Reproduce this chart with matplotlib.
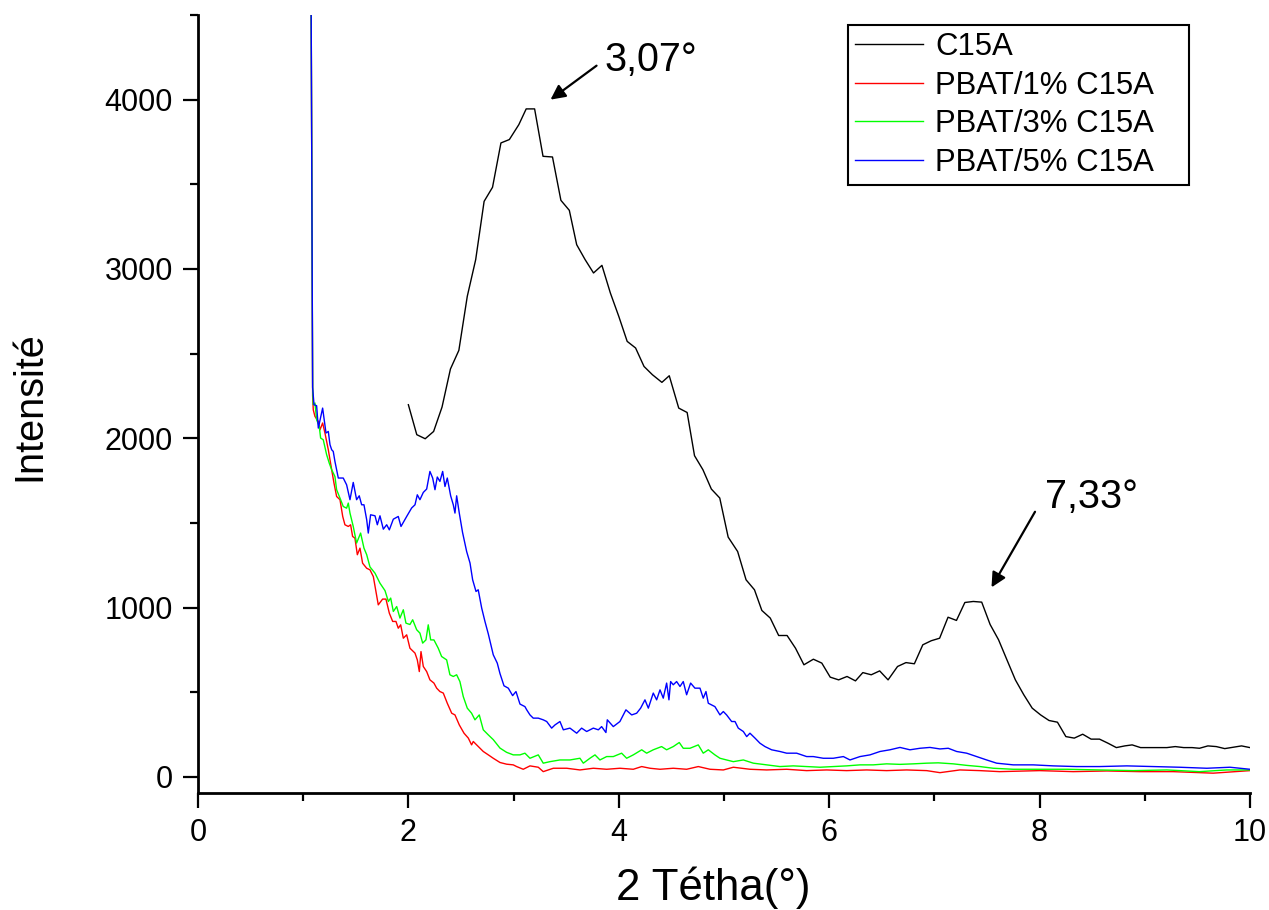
import matplotlib
matplotlib.use("Agg")
import matplotlib.pyplot as plt
from matplotlib.ticker import MultipleLocator

plt.rcParams['font.family'] = ['Liberation Sans', 'DejaVu Sans']

# --- C15A (black) ---
c15a_x = [2.00, 2.08, 2.16, 2.24, 2.32, 2.40, 2.48, 2.56, 2.64, 2.72,
          2.80, 2.88, 2.96, 3.05, 3.12, 3.20, 3.28, 3.37, 3.45, 3.53,
          3.60, 3.68, 3.76, 3.84, 3.92, 4.00, 4.08, 4.16, 4.24, 4.32,
          4.41, 4.48, 4.57, 4.65, 4.72, 4.80, 4.88, 4.96, 5.04, 5.13,
          5.21, 5.29, 5.36, 5.44, 5.52, 5.60, 5.68, 5.76, 5.85, 5.93,
          6.01, 6.09, 6.17, 6.25, 6.32, 6.40, 6.48, 6.56, 6.65, 6.73,
          6.81, 6.89, 6.97, 7.05, 7.13, 7.21, 7.29, 7.37, 7.45, 7.53,
          7.61, 7.69, 7.77, 7.85, 7.93, 8.01, 8.09, 8.17, 8.25, 8.33,
          8.41, 8.49, 8.57, 8.65, 8.73, 8.81, 8.88, 8.96, 9.05, 9.13,
          9.21, 9.29, 9.37, 9.45, 9.52, 9.60, 9.68, 9.76, 9.84, 9.92,
          10.0]
c15a_y = [2198, 2021, 1997, 2040, 2184, 2409, 2519, 2838, 3055, 3399,
          3482, 3744, 3764, 3852, 3945, 3945, 3665, 3661, 3405, 3346,
          3143, 3055, 2976, 3021, 2858, 2720, 2572, 2533, 2424, 2375,
          2330, 2369, 2178, 2152, 1897, 1814, 1700, 1647, 1416, 1331,
          1164, 1105, 983, 938, 835, 835, 760, 662, 695, 672,
          589, 573, 593, 567, 616, 603, 626, 573, 652, 675,
          668, 780, 804, 819, 943, 924, 1030, 1036, 1032, 900,
          810, 691, 573, 485, 406, 366, 333, 323, 238, 229,
          252, 223, 223, 199, 173, 183, 189, 173, 173, 173,
          173, 179, 173, 173, 169, 183, 179, 167, 175, 183,
          173]

# --- PBAT/1% C15A (red) ---
pbat1_x = [1.072, 1.090, 1.096, 1.112, 1.144, 1.160, 1.185, 1.207, 1.239, 1.271,
           1.293, 1.318, 1.350, 1.376, 1.397, 1.429, 1.451, 1.470, 1.492, 1.515,
           1.540, 1.565, 1.604, 1.635, 1.667, 1.714, 1.755, 1.787, 1.819, 1.851,
           1.882, 1.904, 1.927, 1.952, 1.984, 2.015, 2.063, 2.085, 2.104, 2.120,
           2.142, 2.174, 2.205, 2.243, 2.269, 2.300, 2.332, 2.370, 2.412, 2.443,
           2.484, 2.529, 2.570, 2.601, 2.617, 2.649, 2.712, 2.760, 2.807, 2.871,
           2.934, 2.997, 3.029, 3.092, 3.156, 3.235, 3.282, 3.378, 3.505, 3.631,
           3.758, 3.885, 4.011, 4.138, 4.218, 4.297, 4.392, 4.518, 4.645, 4.756,
           4.867, 4.994, 5.089, 5.247, 5.406, 5.596, 5.786, 5.976, 6.166, 6.356,
           6.546, 6.736, 6.927, 7.053, 7.243, 7.433, 7.62, 8.0, 8.32, 8.64,
           8.95, 9.27, 9.65, 10.0]
pbat1_y = [5200, 2250, 2168, 2129, 2099, 2050, 2090, 2031, 1932, 1814,
           1735, 1656, 1637, 1538, 1489, 1479, 1489, 1420, 1410, 1312,
           1351, 1262, 1232, 1223, 1183, 1016, 1050, 1050, 967, 918,
           918, 878, 898, 819, 839, 760, 731, 691, 622, 740,
           652, 622, 573, 554, 524, 504, 495, 435, 376, 366,
           307, 258, 229, 189, 209, 189, 150, 130, 110, 85,
           75, 71, 61, 45, 65, 57, 31, 51, 51, 41,
           51, 45, 51, 45, 61, 51, 45, 51, 45, 61,
           45, 41, 57, 45, 41, 45, 37, 41, 37, 41,
           37, 41, 37, 25, 41, 37, 31, 37, 31, 35,
           31, 31, 22, 37]

# --- PBAT/3% C15A (green) ---
pbat3_x = [1.072, 1.090, 1.096, 1.112, 1.128, 1.153, 1.166, 1.191, 1.223, 1.248,
           1.271, 1.302, 1.318, 1.356, 1.381, 1.413, 1.429, 1.445, 1.476, 1.508,
           1.546, 1.578, 1.604, 1.635, 1.683, 1.730, 1.778, 1.810, 1.832, 1.857,
           1.889, 1.920, 1.952, 1.977, 2.015, 2.041, 2.079, 2.110, 2.136, 2.167,
           2.189, 2.212, 2.243, 2.284, 2.316, 2.364, 2.395, 2.427, 2.459, 2.490,
           2.522, 2.560, 2.601, 2.633, 2.674, 2.712, 2.760, 2.807, 2.871, 2.934,
           2.997, 3.061, 3.108, 3.156, 3.235, 3.282, 3.346, 3.441, 3.536, 3.631,
           3.663, 3.726, 3.774, 3.821, 3.885, 3.948, 4.027, 4.075, 4.138, 4.218,
           4.265, 4.328, 4.407, 4.455, 4.518, 4.575, 4.613, 4.677, 4.756, 4.803,
           4.851, 4.914, 4.962, 5.025, 5.089, 5.184, 5.279, 5.406, 5.532, 5.659,
           5.786, 5.913, 6.039, 6.166, 6.293, 6.419, 6.546, 6.673, 6.80, 6.927,
           7.037, 7.18, 7.307, 7.433, 7.56, 7.75, 7.94, 8.26, 8.57, 8.89,
           9.21, 9.52, 9.78, 10.0]
pbat3_y = [5200, 2300, 2198, 2208, 2109, 2070, 2001, 1991, 1903, 1853,
           1814, 1774, 1696, 1637, 1597, 1587, 1617, 1558, 1479, 1381,
           1440, 1351, 1312, 1240, 1203, 1144, 1100, 1036, 1056, 977,
           1006, 938, 987, 908, 900, 928, 869, 849, 790, 809,
           898, 809, 809, 760, 711, 691, 603, 593, 603, 563,
           474, 406, 376, 337, 366, 278, 248, 220, 170, 145,
           130, 130, 140, 110, 130, 81, 90, 100, 100, 110,
           81, 110, 130, 100, 120, 120, 140, 110, 130, 160,
           140, 160, 179, 160, 179, 203, 169, 169, 189, 140,
           160, 130, 110, 100, 90, 100, 81, 71, 61, 65,
           61, 57, 61, 65, 71, 71, 77, 74, 77, 81,
           83, 77, 68, 61, 51, 45, 45, 45, 41, 37,
           41, 31, 41, 41]

# --- PBAT/5% C15A (blue) ---
pbat5_x = [1.072, 1.090, 1.103, 1.128, 1.144, 1.185, 1.217, 1.239, 1.255, 1.271,
           1.286, 1.302, 1.334, 1.381, 1.413, 1.445, 1.476, 1.508, 1.533, 1.556,
           1.578, 1.604, 1.619, 1.641, 1.683, 1.705, 1.730, 1.762, 1.794, 1.819,
           1.857, 1.904, 1.930, 1.984, 2.031, 2.063, 2.085, 2.110, 2.142, 2.174,
           2.205, 2.231, 2.253, 2.275, 2.300, 2.326, 2.348, 2.370, 2.402, 2.427,
           2.443, 2.459, 2.484, 2.515, 2.554, 2.586, 2.611, 2.643, 2.664, 2.697,
           2.728, 2.760, 2.807, 2.845, 2.871, 2.909, 2.950, 2.991, 3.023, 3.061,
           3.108, 3.125, 3.156, 3.187, 3.235, 3.282, 3.315, 3.362, 3.394, 3.441,
           3.473, 3.536, 3.600, 3.647, 3.695, 3.758, 3.806, 3.837, 3.878, 3.891,
           3.948, 4.011, 4.068, 4.123, 4.170, 4.208, 4.249, 4.281, 4.328, 4.360,
           4.392, 4.423, 4.455, 4.477, 4.493, 4.518, 4.550, 4.582, 4.613, 4.645,
           4.683, 4.724, 4.772, 4.803, 4.829, 4.851, 4.914, 4.962, 4.994, 5.025,
           5.073, 5.105, 5.136, 5.184, 5.216, 5.247, 5.295, 5.342, 5.390, 5.453,
           5.532, 5.596, 5.691, 5.786, 5.849, 5.944, 6.039, 6.135, 6.198, 6.293,
           6.388, 6.483, 6.578, 6.673, 6.768, 6.863, 6.958, 7.053, 7.132, 7.212,
           7.307, 7.402, 7.497, 7.592, 7.75, 7.94, 8.13, 8.35, 8.57, 8.83,
           9.08, 9.33, 9.59, 9.81, 10.0]
pbat5_y = [5200, 2300, 2198, 2192, 2060, 2178, 2031, 2040, 1962, 1932,
           1922, 1863, 1765, 1765, 1725, 1637, 1739, 1637, 1660, 1607,
           1607, 1518, 1440, 1548, 1542, 1489, 1542, 1463, 1489, 1459,
           1522, 1538, 1479, 1538, 1588, 1607, 1666, 1637, 1680, 1700,
           1804, 1765, 1696, 1771, 1745, 1804, 1715, 1765, 1660, 1607,
           1558, 1660, 1558, 1444, 1331, 1263, 1164, 1095, 1105, 997,
           918, 844, 721, 672, 610, 538, 524, 480, 504, 430,
           415, 396, 366, 347, 347, 337, 327, 288, 307, 327,
           278, 288, 258, 288, 268, 288, 278, 297, 262, 337,
           297, 327, 396, 366, 376, 406, 455, 406, 495, 455,
           514, 465, 554, 455, 563, 544, 563, 534, 563, 485,
           554, 524, 524, 465, 504, 435, 415, 366, 386, 366,
           327, 327, 288, 268, 238, 258, 229, 199, 179, 160,
           150, 140, 140, 120, 120, 110, 110, 120, 100, 120,
           130, 150, 160, 174, 160, 169, 174, 165, 169, 150,
           140, 120, 100, 81, 71, 71, 65, 61, 61, 65,
           61, 57, 51, 57, 45]

series = [
    (c15a_x, c15a_y, 'black', 'C15A'),
    (pbat1_x, pbat1_y, '#ff0000', 'PBAT/1% C15A'),
    (pbat3_x, pbat3_y, '#00ff00', 'PBAT/3% C15A'),
    (pbat5_x, pbat5_y, '#0000ff', 'PBAT/5% C15A'),
]

# annotated peaks: label, arrow head, arrow tail, text position
peaks = [("3,07°", (3.33, 3990), (3.81, 4210), (3.86, 4236)),
         ("7,33°", (7.53, 1105), (7.97, 1580), (8.05, 1654))]


fig = plt.figure(figsize=(12.69, 9.10), dpi=100)
ax = fig.add_axes([0.156, 0.1286, 0.829, 0.855])

for x, y, col, lab in series:
    ax.plot(x, y, color=col, lw=1.0, label=lab)

ax.set_xlim(0, 10)
ax.set_ylim(-95, 4500)

for s in ['top', 'right']:
    ax.spines[s].set_visible(False)
for s in ['left', 'bottom']:
    ax.spines[s].set_linewidth(2)

ax.xaxis.set_major_locator(MultipleLocator(2))
ax.xaxis.set_minor_locator(MultipleLocator(1))
ax.yaxis.set_major_locator(MultipleLocator(1000))
ax.yaxis.set_minor_locator(MultipleLocator(500))
ax.tick_params(which='major', direction='out', length=11, width=1.6,
               labelsize=22, pad=7)
ax.tick_params(which='minor', direction='out', length=6, width=1.6)

ax.set_xlabel("2 Tétha(°)", fontsize=31.5)
ax.set_ylabel("Intensité", fontsize=28.5)
ax.xaxis.set_label_coords(0.49, -0.122)
ax.yaxis.set_label_coords(-0.16, 0.497)
ax.xaxis.label.set_va('center')
ax.yaxis.label.set_va('center')

for txt, head, tail, pos in peaks:
    ax.annotate('', xy=head, xytext=tail,
                arrowprops=dict(arrowstyle='-|>', color='black', lw=1.6,
                                mutation_scale=22))
    ax.text(pos[0], pos[1], txt, fontsize=28.5, va='center', ha='left')

leg = ax.legend(loc='upper left', bbox_to_anchor=(0.618, 0.785, 0.324, 0.202),
                mode='expand', fontsize=22.4, frameon=True, fancybox=False,
                framealpha=1, edgecolor='black', handlelength=2.19,
                handletextpad=0.39, labelspacing=0.28, borderpad=0.22,
                borderaxespad=0)
leg.get_frame().set_linewidth(1.5)

fig.savefig("out.png", dpi=100)
